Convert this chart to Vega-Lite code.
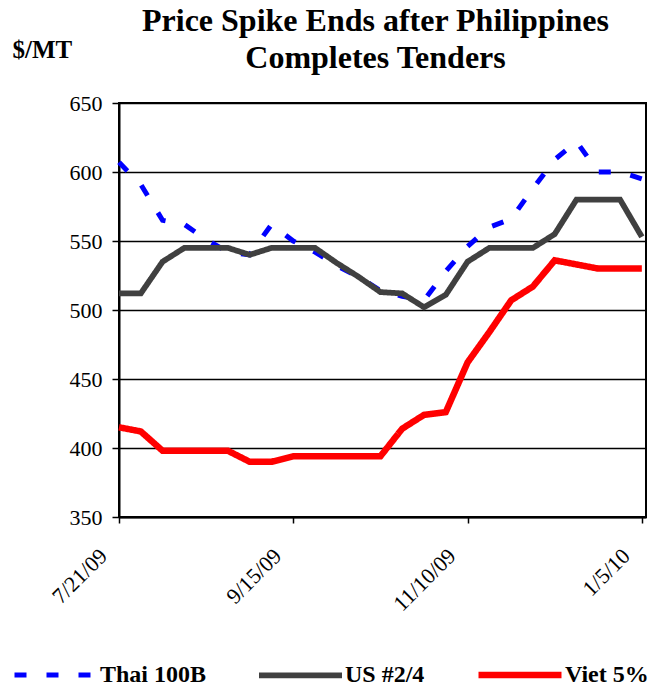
{
  "$schema": "https://vega.github.io/schema/vega-lite/v6.json",
  "autosize": {"type": "none"},
  "padding": {"left": 119, "top": 103, "right": 8, "bottom": 170},
  "width": 527,
  "height": 414,
  "background": "white",
  "title": {
    "text": ["Price Spike Ends after Philippines", "Completes Tenders"],
    "font": "Liberation Serif",
    "fontSize": 32,
    "fontWeight": "bold",
    "color": "black",
    "anchor": "middle",
    "dx": -7,
    "dy": 42,
    "lineHeight": 37
  },
  "config": {
    "view": {"stroke": "black", "strokeWidth": 2}
  },
  "data": {
    "values": [
      {"date": "2009/07/21", "series": "Thai 100B", "price": 607},
      {"date": "2009/07/28", "series": "Thai 100B", "price": 591},
      {"date": "2009/08/04", "series": "Thai 100B", "price": 565},
      {"date": "2009/08/11", "series": "Thai 100B", "price": 562},
      {"date": "2009/08/18", "series": "Thai 100B", "price": 551},
      {"date": "2009/08/25", "series": "Thai 100B", "price": 542},
      {"date": "2009/09/01", "series": "Thai 100B", "price": 540},
      {"date": "2009/09/08", "series": "Thai 100B", "price": 562},
      {"date": "2009/09/15", "series": "Thai 100B", "price": 550},
      {"date": "2009/09/22", "series": "Thai 100B", "price": 542},
      {"date": "2009/09/29", "series": "Thai 100B", "price": 532},
      {"date": "2009/10/06", "series": "Thai 100B", "price": 524},
      {"date": "2009/10/13", "series": "Thai 100B", "price": 514},
      {"date": "2009/10/20", "series": "Thai 100B", "price": 510},
      {"date": "2009/10/27", "series": "Thai 100B", "price": 507},
      {"date": "2009/11/03", "series": "Thai 100B", "price": 528},
      {"date": "2009/11/10", "series": "Thai 100B", "price": 546},
      {"date": "2009/11/17", "series": "Thai 100B", "price": 560},
      {"date": "2009/11/24", "series": "Thai 100B", "price": 566},
      {"date": "2009/12/01", "series": "Thai 100B", "price": 588},
      {"date": "2009/12/08", "series": "Thai 100B", "price": 609},
      {"date": "2009/12/15", "series": "Thai 100B", "price": 622},
      {"date": "2009/12/22", "series": "Thai 100B", "price": 600},
      {"date": "2009/12/29", "series": "Thai 100B", "price": 600},
      {"date": "2010/01/05", "series": "Thai 100B", "price": 595},
      {"date": "2009/07/21", "series": "US #2/4", "price": 512},
      {"date": "2009/07/28", "series": "US #2/4", "price": 512},
      {"date": "2009/08/04", "series": "US #2/4", "price": 535},
      {"date": "2009/08/11", "series": "US #2/4", "price": 545},
      {"date": "2009/08/18", "series": "US #2/4", "price": 545},
      {"date": "2009/08/25", "series": "US #2/4", "price": 545},
      {"date": "2009/09/01", "series": "US #2/4", "price": 540},
      {"date": "2009/09/08", "series": "US #2/4", "price": 545},
      {"date": "2009/09/15", "series": "US #2/4", "price": 545},
      {"date": "2009/09/22", "series": "US #2/4", "price": 545},
      {"date": "2009/09/29", "series": "US #2/4", "price": 534},
      {"date": "2009/10/06", "series": "US #2/4", "price": 524},
      {"date": "2009/10/13", "series": "US #2/4", "price": 513},
      {"date": "2009/10/20", "series": "US #2/4", "price": 512},
      {"date": "2009/10/27", "series": "US #2/4", "price": 502},
      {"date": "2009/11/03", "series": "US #2/4", "price": 511},
      {"date": "2009/11/10", "series": "US #2/4", "price": 535},
      {"date": "2009/11/17", "series": "US #2/4", "price": 545},
      {"date": "2009/11/24", "series": "US #2/4", "price": 545},
      {"date": "2009/12/01", "series": "US #2/4", "price": 545},
      {"date": "2009/12/08", "series": "US #2/4", "price": 555},
      {"date": "2009/12/15", "series": "US #2/4", "price": 580},
      {"date": "2009/12/22", "series": "US #2/4", "price": 580},
      {"date": "2009/12/29", "series": "US #2/4", "price": 580},
      {"date": "2010/01/05", "series": "US #2/4", "price": 553},
      {"date": "2009/07/21", "series": "Viet 5%", "price": 415},
      {"date": "2009/07/28", "series": "Viet 5%", "price": 412},
      {"date": "2009/08/04", "series": "Viet 5%", "price": 398},
      {"date": "2009/08/11", "series": "Viet 5%", "price": 398},
      {"date": "2009/08/18", "series": "Viet 5%", "price": 398},
      {"date": "2009/08/25", "series": "Viet 5%", "price": 398},
      {"date": "2009/09/01", "series": "Viet 5%", "price": 390},
      {"date": "2009/09/08", "series": "Viet 5%", "price": 390},
      {"date": "2009/09/15", "series": "Viet 5%", "price": 394},
      {"date": "2009/09/22", "series": "Viet 5%", "price": 394},
      {"date": "2009/09/29", "series": "Viet 5%", "price": 394},
      {"date": "2009/10/06", "series": "Viet 5%", "price": 394},
      {"date": "2009/10/13", "series": "Viet 5%", "price": 394},
      {"date": "2009/10/20", "series": "Viet 5%", "price": 414},
      {"date": "2009/10/27", "series": "Viet 5%", "price": 424},
      {"date": "2009/11/03", "series": "Viet 5%", "price": 426},
      {"date": "2009/11/10", "series": "Viet 5%", "price": 462},
      {"date": "2009/11/17", "series": "Viet 5%", "price": 484},
      {"date": "2009/11/24", "series": "Viet 5%", "price": 507},
      {"date": "2009/12/01", "series": "Viet 5%", "price": 517},
      {"date": "2009/12/08", "series": "Viet 5%", "price": 536},
      {"date": "2009/12/15", "series": "Viet 5%", "price": 533},
      {"date": "2009/12/22", "series": "Viet 5%", "price": 530},
      {"date": "2009/12/29", "series": "Viet 5%", "price": 530},
      {"date": "2010/01/05", "series": "Viet 5%", "price": 530}
    ]
  },
  "mark": {"type": "line", "strokeCap": "butt", "strokeJoin": "miter"},
  "encoding": {
    "x": {
      "field": "date",
      "type": "temporal",
      "scale": {"domain": [{"year": 2009, "month": 7, "date": 21}, {"year": 2010, "month": 1, "date": 6, "hours": 8}]},
      "axis": {
        "title": null,
        "values": [
          {"year": 2009, "month": 7, "date": 21},
          {"year": 2009, "month": 9, "date": 15},
          {"year": 2009, "month": 11, "date": 10},
          {"year": 2010, "month": 1, "date": 5}
        ],
        "format": "%-m/%-d/%y",
        "labelFont": "Liberation Serif",
        "labelFontWeight": 400,
        "labelFontStyle": "normal",
        "labelColor": "black",
        "labelAngle": -45,
        "labelAlign": "right",
        "labelBaseline": "middle",
        "labelPadding": 29,
        "labelOffset": -16,
        "labelFontSize": 22,
        "labelFlush": false,
        "labelOverlap": false,
        "tickColor": "black",
        "tickSize": 6,
        "tickWidth": 1.5,
        "domainColor": "black",
        "domainWidth": 2,
        "grid": false
      }
    },
    "y": {
      "field": "price",
      "type": "quantitative",
      "scale": {"domain": [350, 650], "nice": false, "zero": false},
      "axis": {
        "title": "$/MT",
        "titleFont": "Liberation Serif",
        "titleColor": "black",
        "titleAngle": 0,
        "titleAlign": "left",
        "titleBaseline": "alphabetic",
        "titleX": -107,
        "titleY": -46,
        "titleFontSize": 25,
        "titleFontWeight": "bold",
        "values": [350, 400, 450, 500, 550, 600, 650],
        "labelFont": "Liberation Serif",
        "labelFontWeight": 400,
        "labelFontStyle": "normal",
        "labelColor": "black",
        "labelFontSize": 22,
        "labelPadding": 10,
        "tickColor": "black",
        "tickSize": 7,
        "tickWidth": 1.5,
        "domainColor": "black",
        "domainWidth": 2,
        "grid": true,
        "gridColor": "black",
        "gridWidth": 1.5,
        "gridOpacity": 1
      }
    },
    "color": {
      "field": "series",
      "type": "nominal",
      "scale": {"domain": ["Thai 100B", "US #2/4", "Viet 5%"], "range": ["#0000FF", "#404040", "#FF0000"]},
      "legend": {
        "title": null,
        "orient": "none",
        "legendX": -107,
        "legendY": 527,
        "direction": "horizontal",
        "symbolType": "stroke",
        "symbolSize": 6889,
        "symbolStrokeWidth": 5,
        "labelFont": "Liberation Serif",
        "labelFontSize": 24,
        "labelFontWeight": "bold",
        "labelColor": "black",
        "labelOffset": 0,
        "columnPadding": 40,
        "labelLimit": 300
      }
    },
    "strokeDash": {
      "field": "series",
      "type": "nominal",
      "scale": {"domain": ["Thai 100B", "US #2/4", "Viet 5%"], "range": [[12, 20], [1, 0], [1, 0]]},
      "legend": null
    },
    "strokeWidth": {
      "field": "series",
      "type": "nominal",
      "scale": {"domain": ["Thai 100B", "US #2/4", "Viet 5%"], "range": [5, 6.5, 5]},
      "legend": null
    }
  }
}
